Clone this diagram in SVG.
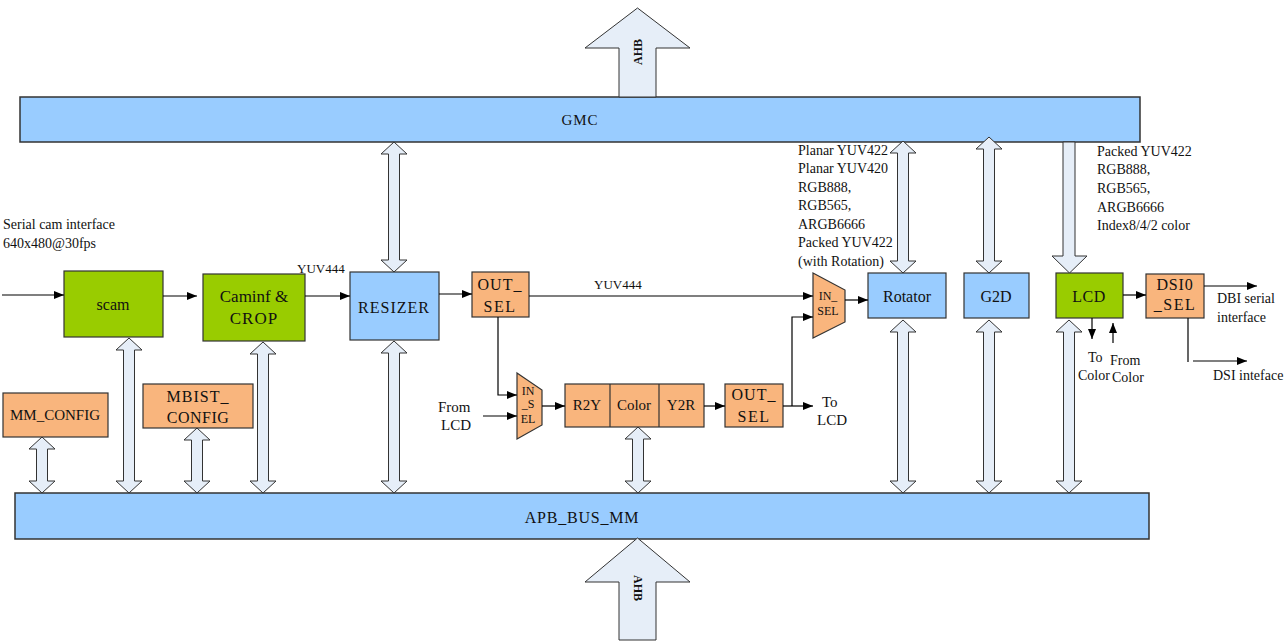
<svg xmlns="http://www.w3.org/2000/svg" width="1285" height="641" viewBox="0 0 1285 641">
<defs>
<style>
text{font-family:"Liberation Serif","Times New Roman",serif;fill:#111}
.bus{fill:#99CCFF;stroke:#333;stroke-width:1.5}
.blue{fill:#99CCFF;stroke:#333;stroke-width:1.2}
.green{fill:#99CC00;stroke:#333;stroke-width:1.2}
.orange{fill:#F9B57D;stroke:#333;stroke-width:1.2}
.barrow{fill:#E6EEF8;stroke:#333;stroke-width:1}
.ln{stroke:#000;stroke-width:1.2;fill:none}
.ar{marker-end:url(#ah)}
.lbl{font-size:14px}
.blk{font-size:16px;text-anchor:middle}
.c{text-anchor:middle}
.ahb{font-size:12px;font-weight:bold;text-anchor:middle}
</style>
<marker id="ah" markerUnits="userSpaceOnUse" markerWidth="10" markerHeight="8" refX="10" refY="4" orient="auto">
<path d="M0,0 L10,4 L0,8 z" fill="#000"/>
</marker>
</defs>

<g id="gmc">
<rect class="bus" x="20" y="97" width="1120" height="45"/>
<text x="580" y="125" class="c" style="font-size:15px;letter-spacing:1px">GMC</text>
</g>
<g id="apb">
<rect class="bus" x="15" y="493" width="1134" height="46"/>
<text x="582" y="523" class="c" style="font-size:16px;letter-spacing:0.8px">APB_BUS_MM</text>
</g>

<g id="ahb-top">
<polygon class="barrow" points="637.5,8 690,48 656,48 656,97 619,97 619,48 585,48"/>
<text transform="translate(641.5,52) rotate(-90)" class="ahb">AHB</text>
</g>
<g id="ahb-bottom">
<polygon class="barrow" points="637.5,538 690,582 656,582 656,640 619,640 619,582 585,582"/>
<text transform="translate(633.5,588) rotate(90)" class="ahb">AHB</text>
</g>

<g id="bus-arrows">
<polygon class="barrow" points="42,437 55,449 47.5,449 47.5,481 55,481 42,493 29,481 36.5,481 36.5,449 29,449"/>
<polygon class="barrow" points="129,338 142,350 134.5,350 134.5,481 142,481 129,493 116,481 123.5,481 123.5,350 116,350"/>
<polygon class="barrow" points="197,428 210,440 202.5,440 202.5,481 210,481 197,493 184,481 191.5,481 191.5,440 184,440"/>
<polygon class="barrow" points="263,342 276,354 268.5,354 268.5,481 276,481 263,493 250,481 257.5,481 257.5,354 250,354"/>
<polygon class="barrow" points="394,341 407,353 399.5,353 399.5,481 407,481 394,493 381,481 388.5,481 388.5,353 381,353"/>
<polygon class="barrow" points="394,142 407,154 399.5,154 399.5,260 407,260 394,272 381,260 388.5,260 388.5,154 381,154"/>
<polygon class="barrow" points="638,427 651,439 643.5,439 643.5,481 651,481 638,493 625,481 632.5,481 632.5,439 625,439"/>
<polygon class="barrow" points="903,141 916,153 908.5,153 908.5,261 916,261 903,273 890,261 897.5,261 897.5,153 890,153"/>
<polygon class="barrow" points="903,320 916,332 908.5,332 908.5,481 916,481 903,493 890,481 897.5,481 897.5,332 890,332"/>
<polygon class="barrow" points="989,137 1002,149 994.5,149 994.5,261 1002,261 989,273 976,261 983.5,261 983.5,149 976,149"/>
<polygon class="barrow" points="989,320 1002,332 994.5,332 994.5,481 1002,481 989,493 976,481 983.5,481 983.5,332 976,332"/>
<polygon class="barrow" points="1063,142 1075,142 1075,256 1087,256 1069.5,273 1052,256 1063,256"/>
<polygon class="barrow" points="1069,320 1082,332 1074.5,332 1074.5,481 1082,481 1069,493 1056,481 1063.5,481 1063.5,332 1056,332"/>
</g>

<g id="scam">
<rect class="green" x="64" y="271" width="99" height="66"/>
<text x="113" y="310" class="blk">scam</text>
</g>
<g id="caminf">
<rect class="green" x="203" y="274" width="102" height="67"/>
<text x="254" y="302" class="blk" style="font-size:17px">Caminf &amp;</text>
<text x="254" y="324" class="blk" style="font-size:17px;letter-spacing:1px">CROP</text>
</g>
<g id="resizer">
<rect class="blue" x="350" y="272" width="89" height="68"/>
<text x="394" y="313" class="blk" style="font-size:16px;letter-spacing:1px">RESIZER</text>
</g>
<g id="mm-config">
<rect class="orange" x="3" y="393" width="105" height="44"/>
<text x="55" y="420" class="blk" style="font-size:15px">MM_CONFIG</text>
</g>
<g id="mbist-config">
<rect class="orange" x="143" y="384" width="110" height="44"/>
<text x="198" y="402" class="blk" style="letter-spacing:1px">MBIST_</text>
<text x="198" y="423" class="blk" style="letter-spacing:0.5px">CONFIG</text>
</g>
<g id="out-sel-1">
<rect class="orange" x="472" y="272" width="57" height="45"/>
<text x="500" y="290" class="blk" style="letter-spacing:1px">OUT_</text>
<text x="500" y="312" class="blk" style="letter-spacing:1.5px">SEL</text>
</g>
<g id="in-sel-lower">
<polygon class="orange" points="517,373 542,390 542,425 517,439"/>
<text x="528" y="395" class="c" style="font-size:12px">IN</text>
<text x="528" y="408" class="c" style="font-size:12px">_S</text>
<text x="528" y="423" class="c" style="font-size:12px">EL</text>
</g>
<g id="color-pipe">
<rect class="orange" x="565" y="384" width="139" height="43"/>
<line x1="610" y1="384" x2="610" y2="427" stroke="#333" stroke-width="1.2"/>
<line x1="659" y1="384" x2="659" y2="427" stroke="#333" stroke-width="1.2"/>
<text x="587" y="410" class="blk" style="font-size:15px">R2Y</text>
<text x="634" y="410" class="blk" style="font-size:15px">Color</text>
<text x="681" y="410" class="blk" style="font-size:15px">Y2R</text>
</g>
<g id="out-sel-2">
<rect class="orange" x="725" y="384" width="58" height="43"/>
<text x="754" y="400" class="blk" style="letter-spacing:1px">OUT_</text>
<text x="754" y="422" class="blk" style="letter-spacing:1.5px">SEL</text>
</g>
<g id="in-sel-upper">
<polygon class="orange" points="813,273 845,290 845,322 813,338"/>
<text x="828" y="300" class="c" style="font-size:12px">IN_</text>
<text x="828" y="315" class="c" style="font-size:12px">SEL</text>
</g>
<g id="rotator">
<rect class="blue" x="868" y="273" width="78" height="45"/>
<text x="907" y="302" class="blk">Rotator</text>
</g>
<g id="g2d">
<rect class="blue" x="964" y="273" width="65" height="45"/>
<text x="996" y="302" class="blk">G2D</text>
</g>
<g id="lcd">
<rect class="green" x="1056" y="273" width="67" height="45"/>
<text x="1089" y="302" class="blk" style="letter-spacing:0.5px">LCD</text>
</g>
<g id="dsi0-sel">
<rect class="orange" x="1146" y="274" width="58" height="44"/>
<text x="1175" y="290" class="blk" style="letter-spacing:0.8px">DSI0</text>
<text x="1175" y="310" class="blk" style="letter-spacing:1.5px">_SEL</text>
</g>

<g id="connectors">
<path class="ln ar" d="M2,295 H64"/>
<path class="ln ar" d="M163,296 H197"/>
<path class="ln ar" d="M305,296 H350"/>
<path class="ln ar" d="M439,294 H472"/>
<path class="ln ar" d="M529,296 H813"/>
<path class="ln ar" d="M498,317 V395 H517"/>
<path class="ln ar" d="M483,416 H517"/>
<path class="ln ar" d="M542,406 H565"/>
<path class="ln ar" d="M704,406 H725"/>
<path class="ln ar" d="M783,406 H813"/>
<path class="ln ar" d="M792,406 V317 H813"/>
<path class="ln ar" d="M845,300 H868"/>
<path class="ln ar" d="M1123,295 H1146"/>
<path class="ln ar" d="M1204,286 H1257"/>
<path class="ln" d="M1188,318 V362"/>
<path class="ln ar" d="M1193,361 H1247"/>
<path class="ln ar" d="M1092,318 V339"/>
<path class="ln ar" d="M1113,343 V323"/>
</g>

<g id="labels">
<text class="lbl" x="3" y="229">Serial cam interface</text>
<text class="lbl" x="3" y="248">640x480@30fps</text>
<text x="297" y="273" style="font-size:13px">YUV444</text>
<text x="594" y="289" style="font-size:13px">YUV444</text>
<text class="lbl" x="438" y="412" style="font-size:15px">From</text>
<text class="lbl" x="441" y="430" style="font-size:15px">LCD</text>
<text class="lbl" x="822" y="407" style="font-size:15px">To</text>
<text class="lbl" x="817" y="425" style="font-size:15px">LCD</text>
<text class="lbl" x="798" y="155">Planar YUV422</text>
<text class="lbl" x="798" y="173">Planar YUV420</text>
<text class="lbl" x="798" y="192">RGB888,</text>
<text class="lbl" x="798" y="210">RGB565,</text>
<text class="lbl" x="798" y="229">ARGB6666</text>
<text class="lbl" x="798" y="247">Packed YUV422</text>
<text class="lbl" x="798" y="266">(with Rotation)</text>
<text class="lbl" x="1097" y="156">Packed YUV422</text>
<text class="lbl" x="1097" y="174">RGB888,</text>
<text class="lbl" x="1097" y="193">RGB565,</text>
<text class="lbl" x="1097" y="212">ARGB6666</text>
<text class="lbl" x="1097" y="230">Index8/4/2 color</text>
<text class="lbl" x="1217" y="303">DBI serial</text>
<text class="lbl" x="1217" y="322">interface</text>
<text class="lbl" x="1213" y="380">DSI inteface</text>
<text class="lbl" x="1088" y="362">To</text>
<text class="lbl" x="1078" y="380">Color</text>
<text class="lbl" x="1110" y="365">From</text>
<text class="lbl" x="1112" y="382">Color</text>
</g>
</svg>
